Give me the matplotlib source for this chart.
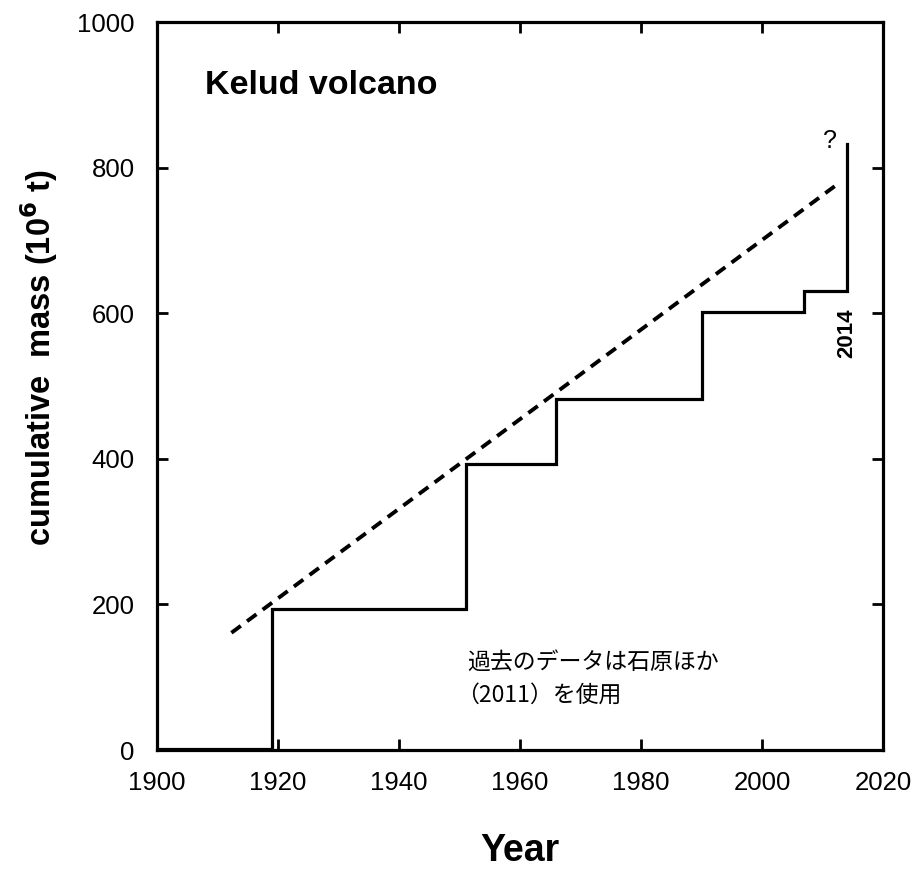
import matplotlib
matplotlib.use("Agg")
import matplotlib.pyplot as plt

# step data (cumulative mass, 10^6 t)
years = [1900, 1919, 1951, 1966, 1990, 2007, 2014]
cum_mass = [1, 193, 393, 482, 601, 630, 832]
# dashed trend line
trend_years = [1912.3, 2012.6]
trend_mass = [161, 778]

xticks = [1900, 1920, 1940, 1960, 1980, 2000, 2020]
yticks = [0, 200, 400, 600, 800, 1000]

plt.rcParams['font.family'] = ['Liberation Sans', 'DejaVu Sans']

fig = plt.figure(figsize=(9.19, 8.72), dpi=100)
ax = fig.add_axes([157/919, 1-750/872, (883-157)/919, (750-22)/872])

ax.step(years, cum_mass, where='post', color='black', lw=2.3, solid_joinstyle='miter')
ax.plot(trend_years, trend_mass, color='black', lw=2.8, ls=(0, (3.0, 2.0)))

ax.set_xlim(1900, 2020)
ax.set_ylim(0, 1000)
ax.set_xticks(xticks)
ax.set_yticks(yticks)
ax.tick_params(direction='in', length=8, width=2, top=True, right=True,
               labelsize=18.5)
ax.tick_params(axis='y', pad=16)
ax.tick_params(axis='x', pad=15)
for s in ax.spines.values():
    s.set_linewidth(2.3)

ax.set_xlabel('Year', fontsize=27, fontweight='bold')
ax.xaxis.set_label_coords((520-157)/726, (750-833)/728)
ax.set_ylabel('cumulative  mass (10$^{\\mathbf{6}}$ t)', fontsize=23.5, fontweight='bold')
ax.yaxis.set_label_coords((60-157)/726, (750-358)/728)

ax.text(1908, 913, 'Kelud volcano', fontsize=24.5, fontweight='bold', va='center', ha='left')
ax.text(2011.3, 836, '?', fontsize=18, ha='center', va='center')
ax.text(2014, 607, '2014', fontsize=16, fontweight='bold', rotation=90, ha='center', va='top')
jp = ['Noto Sans CJK JP', 'DejaVu Sans']
ax.text(1951.2, 119, '過去のデータは石原ほか', fontsize=16.5, family=jp, ha='left', va='center')
ax.text(1949.5, 75, '（2011）を使用', fontsize=16.5, family=jp, ha='left', va='center')

fig.savefig('out.png', dpi=100)
